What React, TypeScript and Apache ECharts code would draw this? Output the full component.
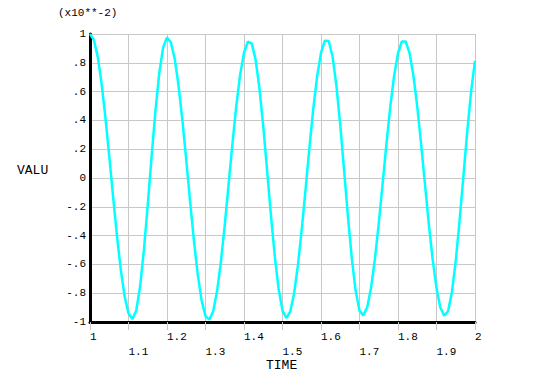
import React, { useEffect, useRef } from "react";
import * as echarts from "echarts";

const times: number[] = [
  1.0, 1.01, 1.02, 1.03, 1.04, 1.05, 1.06, 1.07, 1.08, 1.09,
  1.1, 1.11, 1.12, 1.13, 1.14, 1.15, 1.16, 1.17, 1.18, 1.19,
  1.2, 1.21, 1.22, 1.23, 1.24, 1.25, 1.26, 1.27, 1.28, 1.29,
  1.3, 1.31, 1.32, 1.33, 1.34, 1.35, 1.36, 1.37, 1.38, 1.39,
  1.4, 1.41, 1.42, 1.43, 1.44, 1.45, 1.46, 1.47, 1.48, 1.49,
  1.5, 1.51, 1.52, 1.53, 1.54, 1.55, 1.56, 1.57, 1.58, 1.59,
  1.6, 1.61, 1.62, 1.63, 1.64, 1.65, 1.66, 1.67, 1.68, 1.69,
  1.7, 1.71, 1.72, 1.73, 1.74, 1.75, 1.76, 1.77, 1.78, 1.79,
  1.8, 1.81, 1.82, 1.83, 1.84, 1.85, 1.86, 1.87, 1.88, 1.89,
  1.9, 1.91, 1.92, 1.93, 1.94, 1.95, 1.96, 1.97, 1.98, 1.99,
  2.0,
];

const valu: number[] = [
  1.0, 0.96, 0.843, 0.658, 0.421, 0.151, -0.131, -0.401, -0.638, -0.823,
  -0.94, -0.98, -0.922, -0.756, -0.501, -0.187, 0.15, 0.468, 0.73, 0.907,
  0.976, 0.943, 0.828, 0.642, 0.401, 0.125, -0.162, -0.436, -0.673, -0.852,
  -0.959, -0.984, -0.925, -0.787, -0.582, -0.327, -0.045, 0.239, 0.501, 0.718,
  0.87, 0.946, 0.935, 0.824, 0.625, 0.359, 0.053, -0.259, -0.544, -0.773,
  -0.921, -0.972, -0.929, -0.804, -0.607, -0.357, -0.076, 0.212, 0.481, 0.707,
  0.869, 0.954, 0.951, 0.844, 0.642, 0.368, 0.053, -0.268, -0.557, -0.785,
  -0.921, -0.954, -0.897, -0.763, -0.564, -0.316, -0.041, 0.237, 0.495, 0.712,
  0.866, 0.948, 0.948, 0.867, 0.711, 0.495, 0.237, -0.042, -0.318, -0.565,
  -0.766, -0.899, -0.956, -0.925, -0.793, -0.575, -0.295, 0.017, 0.328, 0.603,
  0.813,
];

const yLabel = "VALU";
const xLabel = "TIME";
const scaleNote = "(x10**-2)";

const FONT = "'Liberation Mono', 'DejaVu Sans Mono', monospace";

export default function App() {
  const ref = useRef<HTMLDivElement>(null);

  useEffect(() => {
    if (!ref.current) return;
    const chart = echarts.init(ref.current, undefined, { renderer: "svg" });
    const data = times.map((t, i) => [t, valu[i]]);
    chart.setOption({
      animation: false,
      backgroundColor: "#ffffff",
      grid: { left: 90, top: 34, width: 385, height: 288, containLabel: false },
      xAxis: {
        type: "value",
        min: 1,
        max: 2,
        interval: 0.1,
        axisLine: { show: true, onZero: false, lineStyle: { color: "#000", width: 3 } },
        axisTick: { show: true, inside: false, length: 8, lineStyle: { color: "#c8c8c8", width: 1 } },
        splitLine: { show: true, lineStyle: { color: "#c8c8c8", width: 1 } },
        axisLabel: {
          color: "#000",
          fontFamily: FONT,
          fontSize: 11,
          lineHeight: 15,
          margin: 7,
          align: "left",
          formatter: (v: number) => {
            const k = Math.round(v * 10);
            const s = String(k / 10);
            return k % 2 === 1 ? "\n" + s : s;
          },
        },
      },
      yAxis: {
        type: "value",
        min: -1,
        max: 1,
        interval: 0.2,
        axisLine: { show: true, onZero: false, lineStyle: { color: "#000", width: 3 } },
        axisTick: { show: false },
        splitLine: { show: true, lineStyle: { color: "#c8c8c8", width: 1 } },
        axisLabel: {
          color: "#000",
          fontFamily: FONT,
          fontSize: 11,
          margin: 4,
          formatter: (v: number) => {
            const s = String(Math.round(v * 10) / 10);
            return s.replace(/^(-?)0\./, "$1.");
          },
        },
      },
      series: [
        {
          type: "line",
          data,
          showSymbol: false,
          symbol: "none",
          lineStyle: { color: "#00ffff", width: 2.5 },
          z: 3,
        },
      ],
      graphic: [
        {
          type: "text",
          left: 58,
          top: 7,
          style: { text: scaleNote, fill: "#000", font: `11px ${FONT}` },
        },
        {
          type: "text",
          left: 17,
          top: 164,
          style: { text: yLabel, fill: "#000", font: `13px ${FONT}` },
        },
        {
          type: "text",
          left: 266,
          top: 359,
          style: { text: xLabel, fill: "#000", font: `13px ${FONT}` },
        },
      ],
    });
    return () => chart.dispose();
  }, []);

  return (
    <div
      ref={ref}
      style={{ position: "fixed", left: 0, top: 0, width: 537, height: 381 }}
    />
  );
}
